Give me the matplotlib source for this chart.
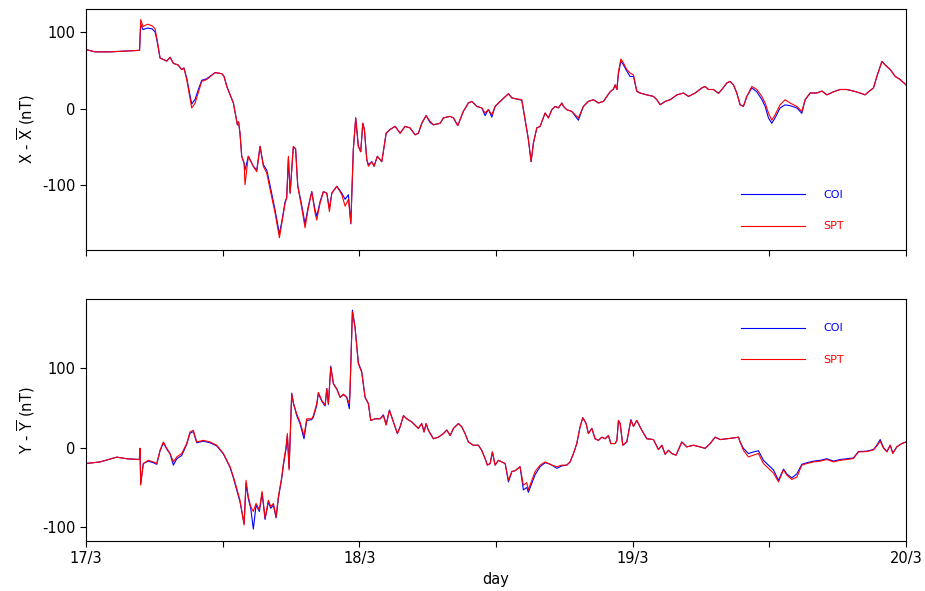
import matplotlib
matplotlib.use("Agg")
import matplotlib.pyplot as plt

# time in hours since 17/3 00:00
tx = [0.0, 0.79, 2.1, 3.4, 4.7, 4.8, 5.0, 5.4, 5.8, 6.06, 6.24, 6.5, 7.09, 7.38, 7.67, 8.08, 8.40, 8.6,
      8.84, 9.28, 9.57, 9.84, 10.16, 10.6, 11.33, 11.92, 12.12, 12.36, 12.94, 13.29, 13.39, 13.52, 13.67,
      13.88, 13.96, 14.25, 14.69, 14.99, 15.28, 15.57, 15.87, 16.16, 16.6, 16.98, 17.19, 17.48, 17.62,
      17.77, 17.92, 18.2, 18.4, 18.59, 18.94, 19.23, 19.52, 19.82, 20.11, 20.26, 20.55, 20.84, 21.14,
      21.37, 21.58, 22.02, 22.46, 22.75, 23.04, 23.25, 23.47, 23.68, 23.91, 24.12, 24.3, 24.44, 24.65,
      24.79, 25.09, 25.29, 25.58, 25.97, 26.35, 26.7, 27.14, 27.58, 28.01, 28.45, 28.89, 29.18, 29.48,
      29.86, 30.21, 30.5, 31.09, 31.38, 31.97, 32.26, 32.64, 33.13, 33.57, 33.87, 34.31, 34.75, 35.04,
      35.33, 35.63, 35.92, 36.36, 37.09, 37.39, 38.26, 38.55, 38.84, 39.08, 39.28, 39.58, 39.87, 40.31,
      40.6, 40.9, 41.19, 41.48, 41.78, 41.92, 42.21, 42.65, 43.23, 43.67, 44.11, 44.55, 44.99, 45.43,
      45.73, 46.02, 46.31, 46.46, 46.61, 46.75, 46.96, 47.19, 47.48, 47.77, 48.07, 48.36, 48.65, 49.24,
      49.82, 50.12, 50.41, 50.85, 51.29, 51.88, 52.46, 52.9, 53.48, 54.07, 54.36, 54.65, 55.09, 55.53,
      55.83, 56.26, 56.55, 56.85, 57.14, 57.43, 57.72, 58.02, 58.46, 58.9, 59.34, 59.63, 59.92, 60.21,
      60.5, 60.94, 61.38, 61.82, 62.41, 62.85, 63.14, 63.58, 64.17, 64.61, 65.05, 65.63, 66.21, 66.8,
      67.38, 67.97, 68.41, 68.7, 69.14, 69.44, 69.88, 70.17, 70.61, 71.05, 71.48, 72.0]

x_spt = [77, 74, 74, 75, 76, 116, 107, 110, 108, 104, 90, 66, 62, 67, 59, 57, 51, 53,
         38, 1, 7, 20, 35.5, 38, 47, 45.6, 42, 29, 7.4, -21, -17, -32, -62,
         -71, -99, -62, -75, -82, -49, -75, -84, -105, -136, -168, -149, -123, -116,
         -62, -110, -49, -52, -101, -129, -155, -129, -108, -136, -145, -123, -108, -110,
         -134, -110, -101, -112, -127, -118, -149, -53, -12, -49, -56, -19, -27, -66,
         -75, -69, -75, -62, -69, -32, -27, -23, -32, -23, -25, -34, -32, -19,
         -9, -16.5, -21, -19, -12, -10, -12, -22, -3.5, 7.4, 9.5, 3, 1, -5.6,
         -1, -8, 3, 9.5, 19.5, 14, 11.7, -14, -40, -69, -45, -25, -23, -5.6,
         -12, -1.3, 3, 1, 7.4, 3, -1.3, -3.5, -12, 3, 9.5, 11.7, 7.4, 9.5,
         16, 22, 25.6, 31, 25, 48, 64.7, 59.5, 51, 46.5, 44, 22.6, 20.4, 18,
         16, 11.7, 5.2, 9.5, 11.7, 18, 20.4, 16, 20.4, 27, 29, 25, 25, 20,
         25, 33.5, 35.5, 31, 20.4, 5.2, 3, 16, 29, 25, 16, 7.4, -5.6, -15,
         -8, 5, 11.7, 7.4, 3, -3.5, 11.7, 20.4, 20.4, 23, 18, 22, 25, 25,
         23, 20.4, 18, 22, 27, 42, 61.6, 57, 51, 42, 38, 31]

x_coi = [77, 74, 74, 75, 76, 110, 103, 105, 104, 100, 88, 66, 62, 67, 59, 57, 51, 53,
         40, 6, 12, 24, 37, 39, 47, 45.6, 42, 29, 7.4, -21, -17, -32, -62,
         -71, -80, -62, -75, -80, -49, -73, -80, -100, -132, -163, -147, -121, -116,
         -65, -110, -50, -52, -100, -126, -150, -127, -108, -132, -140, -121, -108, -110,
         -130, -110, -101, -110, -118, -112, -150, -53, -12, -49, -56, -19, -27, -66,
         -73, -69, -75, -62, -69, -32, -27, -23, -32, -23, -25, -34, -32, -19,
         -9, -18, -21, -19, -12, -10, -12, -22, -3.5, 7.4, 9.5, 3, 1, -9,
         -1, -11, 3, 9.5, 19.5, 14, 11, -14, -40, -69, -45, -25, -23, -5.6,
         -12, -1.3, 3, 1, 7.4, 3, -1.3, -3.5, -15, 3, 9.5, 11.7, 7.4, 9.5,
         16, 22, 25.6, 31, 25, 46, 62, 57, 49, 42, 42, 22.6, 20.4, 18,
         16, 11.7, 5.2, 9.5, 11.7, 18, 20.4, 16, 20.4, 27, 29, 25, 25, 20,
         25, 33.5, 35.5, 31, 20.4, 5.2, 3, 16, 27, 22, 12, 3, -12, -19,
         -12, 1, 5, 4, 1, -6, 11.7, 20.4, 20.4, 23, 18, 22, 25, 25,
         23, 20.4, 18, 22, 27, 42, 61.6, 57, 51, 42, 38, 31]

ty = [0.0, 1.23, 2.7, 3.57, 4.68, 4.74, 4.8, 5.03, 5.47, 5.91, 6.21, 6.5, 6.79, 7.09, 7.38, 7.67, 7.97,
      8.4, 8.84, 9.13, 9.42, 9.72, 10.3, 10.89, 11.48, 12.06, 12.65, 12.94, 13.23, 13.52, 13.88, 14.05,
      14.25, 14.46, 14.69, 14.93, 15.22, 15.46, 15.72, 16.01, 16.22, 16.45, 16.69, 16.89, 17.19, 17.33,
      17.56, 17.68, 17.83, 18.06, 18.21, 18.5, 18.79, 19.14, 19.38, 19.82, 19.96, 20.26, 20.4, 20.7,
      20.99, 21.14, 21.28, 21.49, 21.72, 22.02, 22.31, 22.6, 22.89, 23.12, 23.18, 23.39, 23.62, 23.91,
      24.21, 24.5, 24.79, 25.0, 25.38, 25.82, 26.11, 26.35, 26.64, 26.99, 27.34, 27.58, 27.87, 28.16,
      28.6, 28.89, 29.18, 29.48, 29.68, 29.86, 30.06, 30.5, 30.94, 31.38, 31.68, 31.97, 32.26, 32.7,
      32.99, 33.28, 33.57, 34.01, 34.45, 34.74, 35.04, 35.24, 35.48, 35.68, 35.92, 36.21, 36.51, 36.8,
      37.09, 37.39, 37.68, 38.11, 38.4, 38.7, 38.84, 39.14, 39.43, 39.87, 40.31, 40.6, 40.9, 41.34,
      41.78, 42.21, 42.5, 42.8, 43.09, 43.38, 43.62, 43.91, 44.11, 44.41, 44.7, 44.99, 45.29, 45.58,
      45.87, 46.08, 46.46, 46.61, 46.75, 46.9, 47.13, 47.48, 47.84, 48.07, 48.36, 48.8, 49.24, 49.82,
      50.26, 50.56, 50.85, 51.14, 51.43, 51.81, 52.31, 52.75, 53.33, 53.92, 54.36, 54.8, 55.24, 55.68,
      56.27, 56.85, 57.29, 57.43, 57.72, 58.16, 58.6, 59.04, 59.48, 59.92, 60.36, 60.8, 61.24, 61.53,
      61.97, 62.41, 62.85, 63.29, 63.87, 64.46, 65.05, 65.63, 66.21, 66.8, 67.38, 67.82, 68.56, 69.14,
      69.44, 69.73, 70.02, 70.32, 70.61, 70.84, 71.19, 71.63, 72.0]

y_spt = [-20, -18, -12, -14, -15, -1, -47, -20, -16, -18, -20, -3.4, 7, -1, -7.5, -18, -11.7,
         -7.5, 5, 19.5, 21.6, 7, 9, 7, 2.9, -7.5, -24, -36.6, -51, -66, -97, -41,
         -61.6, -74, -80, -70, -78, -55, -88.5, -66, -74, -70, -86.5, -61.6, -36.6, -20,
         0.8, 17.5, -28, 67, 55, 42, 32, 15, 36, 36, 40, 55, 69, 59,
         53, 73.5, 55, 100.5, 80, 73.5, 63, 67, 63, 55, 71, 170, 150, 105,
         94, 63, 55, 34, 36, 36, 40, 28, 46.5, 32, 17.5, 26, 40, 36,
         32, 28, 24, 30, 19.5, 30, 21.6, 11, 13, 17.5, 22, 15, 24, 30,
         26, 17.5, 7, 2.9, 2.9, -3.4, -13.7, -22, -20, -5.5, -22, -16, -18, -20,
         -41, -30, -29, -24, -47, -44, -53, -41, -30, -22, -18, -20, -22, -24,
         -22, -22, -18, -7.5, 5, 26, 37.4, 30, 17.5, 24, 11, 9, 13, 11,
         15, 5, 5, 9, 34, 30, 2.9, 7, 34, 26.5, 34, 21.6, 11, 10,
         -2.5, 2.9, -8.4, -3.4, -7.5, -9.5, 7, 0.8, 2.9, 0.8, -1, 5, 13, 10,
         11, 12, 13, 7, -3.4, -11.7, -9.5, -7.5, -20, -26, -32, -43, -28, -34.5,
         -40, -37, -22, -20, -18, -17, -15, -18, -16, -15, -13.7, -5.5, -5, -3,
         2, 8, -0.8, -5.5, 2.9, -7.5, 0.8, 5, 7]

y_coi = [-20, -18, -12, -14, -15, -1, -45, -20, -17, -19, -21, -4, 6, -2, -8, -22, -14,
         -10, 4, 18, 20, 6, 8, 6, 2, -8, -25, -38, -53, -68, -95, -45,
         -64, -76, -102, -72, -80, -57, -90, -68, -76, -72, -88, -63, -38, -22,
         -2, 15, -26, 68, 56, 40, 30, 11, 34, 35, 38, 53, 68, 58,
         52, 74, 54, 102, 80, 73, 63, 66, 63, 48.6, 71, 172, 151, 106,
         95, 63, 55, 34, 36, 36, 41, 29, 47, 32, 17.5, 26, 40, 36,
         32, 28, 24, 30, 19.5, 30, 21.6, 11, 13, 17.5, 22, 15, 24, 30,
         26, 17.5, 7, 2.9, 2.9, -3.4, -13.7, -22, -20, -5.5, -22, -16, -18, -20,
         -43, -30, -29, -24, -53, -50, -56, -45, -34, -24, -19, -20, -22, -26,
         -23, -22, -18, -7.5, 5, 26, 37.4, 30, 17.5, 24, 11, 9, 13, 11,
         15, 5, 5, 9, 34, 30, 2.9, 7, 35, 26.5, 34, 21.6, 11, 10,
         -2.5, 2.9, -8.4, -3.4, -7.5, -9.5, 7, 0.8, 2.9, 0.8, -1, 5, 13, 10,
         11, 12, 13, 7, -1, -7.5, -5.5, -4, -16, -22, -28, -41, -27, -33,
         -38, -33, -21, -19, -17, -16, -14, -17, -15, -14, -13, -5, -4.5, -2.5,
         3, 10, 0, -5, 3, -7, 1, 5, 7]

tick_pos = [0, 12, 24, 36, 48, 60, 72]
tick_lab = ["17/3", "", "18/3", "", "19/3", "", "20/3"]

plt.rcParams['font.family'] = 'DejaVu Sans'
plt.rcParams['axes.unicode_minus'] = False
fig = plt.figure(figsize=(9.25, 5.91), dpi=100)
ax1 = fig.add_axes([0.093, 0.577, 0.8865, 0.408])
ax2 = fig.add_axes([0.093, 0.0846, 0.8865, 0.4095])

for ax, t, coi, spt in ((ax1, tx, x_coi, x_spt), (ax2, ty, y_coi, y_spt)):
    ax.plot(t, coi, color='blue', lw=0.8, label='COI')
    ax.plot(t, spt, color='red', lw=0.8, label='SPT')
    ax.set_xlim(0, 72)
    ax.set_xticks(tick_pos)
    ax.tick_params(labelsize=10.5, length=4)
    ax.set_yticks([-100, 0, 100])

ax1.set_xticklabels([""] * len(tick_pos))
ax2.set_xticklabels(tick_lab)
ax1.set_ylim(-184, 130)
ax2.set_ylim(-117, 186)
ax1.set_ylabel(r'X - $\overline{\mathrm{X}}$ (nT)', fontsize=10.5)
ax2.set_ylabel(r'Y - $\overline{\mathrm{Y}}$ (nT)', fontsize=10.5)
ax2.set_xlabel('day', fontsize=10.5)

for ax, yc in ((ax1, 0.162), (ax2, 0.814)):
    leg = ax.legend(loc='center', bbox_to_anchor=(0.862, yc), frameon=False, fontsize=8,
                    handlelength=5.7, handletextpad=1.7, labelspacing=1.9)
    for txt, line in zip(leg.get_texts(), leg.get_lines()):
        txt.set_color(line.get_color())

fig.savefig('out.png', dpi=100)
